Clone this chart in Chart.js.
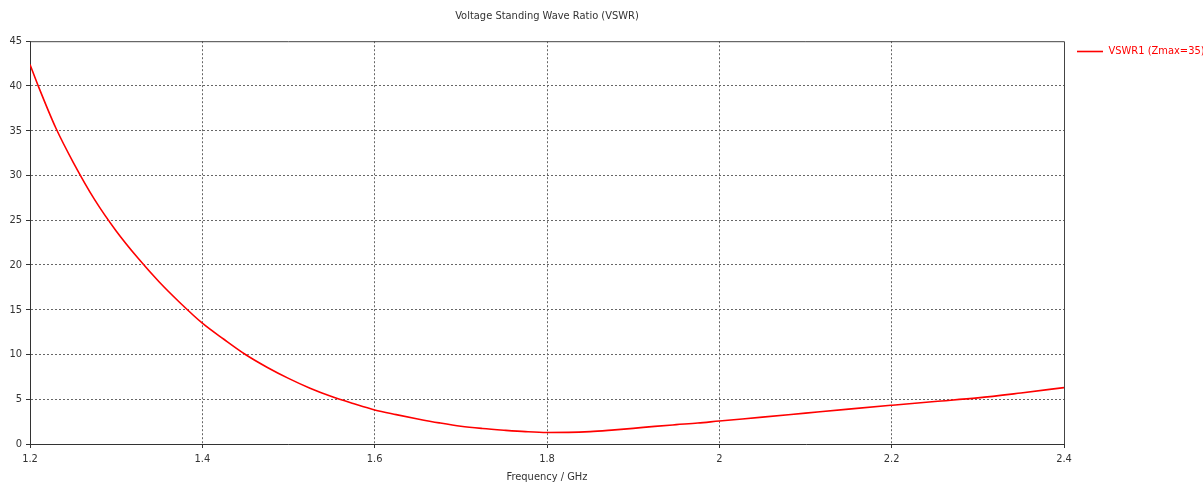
<!DOCTYPE html>
<html>
<head>
<meta charset="utf-8">
<script src="https://cdn.jsdelivr.net/npm/chart.js@4"></script>
<style>
  html, body { margin: 0; padding: 0; background: #ffffff; }
  #wrap { width: 1203px; height: 484px; }
</style>
</head>
<body>
<div id="wrap"><canvas id="vswrChart" width="1203" height="484"></canvas></div>
<script>
// Données (fréquence en GHz, VSWR)
const freqGHz = [1.20, 1.21, 1.23, 1.25, 1.275, 1.30, 1.325, 1.35, 1.375, 1.40,
                 1.425, 1.45, 1.475, 1.50, 1.525, 1.55, 1.575, 1.60, 1.625, 1.65,
                 1.675, 1.70, 1.725, 1.75, 1.775, 1.80, 1.825, 1.85, 1.875, 1.90,
                 1.925, 1.95, 1.975, 2.00, 2.05, 2.10, 2.15, 2.20, 2.25, 2.30,
                 2.35, 2.40];
const vswr1 = [42.4, 39.9, 35.3, 31.5, 27.3, 23.8, 20.8, 18.1, 15.7, 13.5,
               11.7, 10.0, 8.58, 7.33, 6.23, 5.3, 4.52, 3.80, 3.28, 2.80,
               2.36, 1.98, 1.73, 1.54, 1.38, 1.29, 1.30, 1.38, 1.55, 1.75,
               1.97, 2.16, 2.34, 2.57, 3.0, 3.45, 3.9, 4.33, 4.75, 5.15,
               5.7, 6.30];
const xTicks = [1.2, 1.4, 1.6, 1.8, 2.0, 2.2, 2.4];
const yTicks = [0, 5, 10, 15, 20, 25, 30, 35, 40, 45];

const seriesLabel = 'VSWR1 (Zmax=35)';
const chartTitle = 'Voltage Standing Wave Ratio (VSWR)';
const xTitle = 'Frequency / GHz';

const FONT = '"DejaVu Sans Condensed", "DejaVu Sans", sans-serif';
const TXT = '#333333';

// Cadre du graphique (haut et droite)
const framePlugin = {
  id: 'frame',
  afterDatasetsDraw(chart) {
    const { ctx, chartArea: a } = chart;
    ctx.save();
    ctx.strokeStyle = '#444444';
    ctx.lineWidth = 1;
    ctx.beginPath();
    ctx.moveTo(a.left, a.top + 0.5);
    ctx.lineTo(a.right + 0.5, a.top + 0.5);
    ctx.lineTo(a.right + 0.5, a.bottom);
    ctx.stroke();
    ctx.restore();
  }
};

function initChart() {
  const ctx = document.getElementById('vswrChart').getContext('2d');
  new Chart(ctx, {
    type: 'line',
    data: {
      datasets: [{
        label: seriesLabel,
        data: freqGHz.map((f, i) => ({ x: f, y: vswr1[i] })),
        borderColor: '#ff0000',
        backgroundColor: '#ff0000',
        borderWidth: 1.6,
        pointRadius: 0,
        cubicInterpolationMode: 'monotone',
        fill: false
      }]
    },
    options: {
      responsive: false,
      animation: false,
      layout: { padding: 0 },
      plugins: {
        title: {
          display: true,
          text: chartTitle,
          fullSize: false,
          color: TXT,
          font: { family: FONT, size: 11, weight: 'normal' },
          padding: { top: 10, bottom: 18 }
        },
        legend: {
          position: 'right',
          align: 'start',
          maxWidth: 139,
          title: { display: true, text: '', padding: { top: 21, bottom: 0 }, font: { size: 10 } },
          labels: {
            usePointStyle: true,
            pointStyle: 'line',
            pointStyleWidth: 26,
            padding: 13,
            color: '#ff0000',
            font: { family: FONT, size: 11 }
          }
        },
        tooltip: { enabled: false }
      },
      scales: {
        x: {
          type: 'linear',
          min: 1.2,
          max: 2.4,
          afterBuildTicks: (scale) => { scale.ticks = xTicks.map(v => ({ value: v })); },
          afterFit: (scale) => { scale.height = 40; },
          ticks: {
            color: TXT,
            font: { family: FONT, size: 11 },
            padding: 5,
            maxRotation: 0,
            callback: (v) => String(Number(v.toFixed(1)))
          },
          grid: {
            color: (c) => (c.tick && (c.tick.value === 1.2 || c.tick.value === 2.4)) ? 'rgba(0,0,0,0)' : '#666666',
            lineWidth: 1,
            tickLength: 4,
            tickColor: '#333333'
          },
          border: { display: true, color: '#333333', width: 1, dash: [2, 2] },
          title: {
            display: true,
            text: xTitle,
            color: TXT,
            font: { family: FONT, size: 11 },
            padding: { top: 0, bottom: 0 }
          }
        },
        y: {
          type: 'linear',
          min: 0,
          max: 45,
          afterBuildTicks: (scale) => { scale.ticks = yTicks.map(v => ({ value: v })); },
          afterFit: (scale) => { scale.width = 30; },
          ticks: {
            color: TXT,
            font: { family: FONT, size: 11 },
            padding: 4
          },
          grid: {
            color: (c) => (c.tick && (c.tick.value === 0 || c.tick.value === 45)) ? 'rgba(0,0,0,0)' : '#666666',
            lineWidth: 1,
            tickLength: 4,
            tickColor: '#333333'
          },
          border: { display: true, color: '#333333', width: 1, dash: [2, 2] }
        }
      }
    },
    plugins: [framePlugin]
  });
}

window.onload = initChart;
</script>
</body>
</html>
